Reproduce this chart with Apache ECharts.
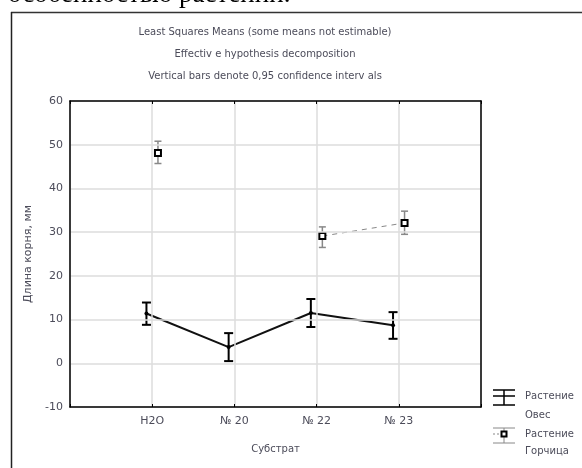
<!DOCTYPE html>
<html><head><meta charset="utf-8">
<script src="https://cdn.jsdelivr.net/npm/echarts@6/dist/echarts.min.js"></script>
<style>html,body{margin:0;padding:0;background:#fff}#c{width:582px;height:468px}</style>
</head><body><div id="c"></div>
<script>
var categories = ['H2O', '№ 20', '№ 22', '№ 23'];
var yTicks = [-10, 0, 10, 20, 30, 40, 50, 60];
var oatMean = [11.4, 3.7, 11.5, 8.7];
var oatLow  = [8.8, 0.5, 8.3, 5.6];
var oatHigh = [13.9, 6.9, 14.7, 11.7];
var mustardMean = [48.1, null, 29.1, 32.1];
var mustardLow  = [45.7, null, 26.5, 29.5];
var mustardHigh = [50.8, null, 31.2, 34.8];
var seriesNames = ['Растение\nОвес', 'Растение\nГорчица'];
var titleLines = ['Least Squares Means (some means not estimable)', 'Effectiv e hypothesis decomposition', 'Vertical bars denote 0,95 confidence interv als'];

var OFF = 0.07;
var FONT = '"DejaVu Sans", Verdana, sans-serif';
var TXT = '#4c4c5a';
function pts(arr, off) { return arr.map(function (v, i) { return [i + 1 + off, v]; }); }
function bars(mean, lo, hi, off) {
  var out = [];
  mean.forEach(function (v, i) { if (v !== null) out.push([i + 1 + off, lo[i], hi[i]]); });
  return out;
}
function errRender(color, w, cap) {
  return function (params, api) {
    var x = api.value(0);
    var a = api.coord([x, api.value(1)]);
    var b = api.coord([x, api.value(2)]);
    var st = { stroke: color, lineWidth: w };
    return { type: 'group', children: [
      { type: 'line', shape: { x1: a[0], y1: a[1], x2: b[0], y2: b[1] }, style: st },
      { type: 'line', shape: { x1: a[0] - cap, y1: a[1], x2: a[0] + cap, y2: a[1] }, style: st },
      { type: 'line', shape: { x1: b[0] - cap, y1: b[1], x2: b[0] + cap, y2: b[1] }, style: st }
    ]};
  };
}

var chart = echarts.init(document.getElementById('c'), null, { renderer: 'canvas' });
var gfx = [
  { type: 'text', left: 8, top: -19, style: { text: 'особенностью растений.', font: '27px "Liberation Serif", "Times New Roman", serif', fill: '#000' } },
  { type: 'line', shape: { x1: 11, y1: 12.5, x2: 582, y2: 12.5 }, style: { stroke: '#333', lineWidth: 1.5 } },
  { type: 'line', shape: { x1: 11.5, y1: 12, x2: 11.5, y2: 468 }, style: { stroke: '#222', lineWidth: 1.5 } }
];
titleLines.forEach(function (t, i) {
  gfx.push({ type: 'text', x: 265, y: 32 + i * 22, style: { text: t, font: '10px ' + FONT, fill: TXT, align: 'center', verticalAlign: 'middle' } });
});
// legend
var lx = 504, hw = 11;
function L(x1, y1, x2, y2, c, w, dash) { return { type: 'line', shape: { x1: x1, y1: y1, x2: x2, y2: y2 }, style: { stroke: c, lineWidth: w, lineDash: dash || null } }; }
function T(t, x, y) { return { type: 'text', x: x, y: y, style: { text: t, font: '10px ' + FONT, fill: TXT, verticalAlign: 'middle' } }; }
gfx.push(
  L(lx - hw, 390, lx + hw, 390, '#000', 1.5),
  L(lx - hw, 396, lx + hw, 396, '#000', 1.5),
  L(lx - hw, 405, lx + hw, 405, '#000', 1.5),
  L(lx, 390, lx, 405, '#000', 1.5),
  T(seriesNames[0].split('\n')[0], 525, 396),
  T(seriesNames[0].split('\n')[1], 525, 415),
  L(lx - hw, 428, lx + hw, 428, '#888', 1),
  L(lx - hw, 443, lx + hw, 443, '#888', 1),
  L(lx - hw, 434, lx - 3, 434, '#888', 1, [2, 2]),
  L(lx, 428, lx, 443, '#888', 1),
  { type: 'rect', shape: { x: lx - 2.5, y: 431.5, width: 5, height: 5 }, style: { fill: '#fff', stroke: '#000', lineWidth: 2 } },
  T(seriesNames[1].split('\n')[0], 525, 434),
  T(seriesNames[1].split('\n')[1], 525, 451)
);

var xMax = categories.length + 1;
chart.setOption({
  animation: false,
  backgroundColor: '#fff',
  textStyle: { fontFamily: FONT },
  grid: { left: 70, right: 101, top: 101, bottom: 61 },
  xAxis: [{
    type: 'value', min: 0, max: xMax, interval: 1,
    name: 'Субстрат', nameLocation: 'middle', nameGap: 37,
    nameTextStyle: { color: TXT, fontSize: 10 },
    axisLine: { show: true, onZero: false, lineStyle: { color: '#000', width: 1.5 } },
    axisTick: { show: true, inside: true, length: 3, lineStyle: { color: '#000' } },
    axisLabel: { color: TXT, fontSize: 11, margin: 9, formatter: function (v) { return categories[v - 1] || ''; } },
    splitLine: { show: true, lineStyle: { color: '#dcdcdc', width: 1.5 } },
    z: 5
  }, {
    type: 'value', position: 'top', min: 0, max: xMax, interval: 1,
    axisLine: { show: true, onZero: false, lineStyle: { color: '#000', width: 1.5 } },
    axisTick: { show: true, inside: true, length: 3, lineStyle: { color: '#000' } },
    axisLabel: { show: false }, splitLine: { show: false }, z: 5
  }],
  yAxis: [{
    type: 'value', min: yTicks[0], max: yTicks[yTicks.length - 1], interval: 10,
    name: 'Длина корня, мм', nameLocation: 'middle', nameGap: 34,
    nameTextStyle: { color: TXT, fontSize: 11 },
    axisLine: { show: true, onZero: false, lineStyle: { color: '#000', width: 1.5 } },
    axisTick: { show: false },
    axisLabel: { color: TXT, fontSize: 11, margin: 7 },
    splitLine: { show: true, lineStyle: { color: '#dcdcdc', width: 1.5 } },
    z: 5
  }, {
    type: 'value', position: 'right', min: yTicks[0], max: yTicks[yTicks.length - 1], interval: 10,
    axisLine: { show: true, onZero: false, lineStyle: { color: '#000', width: 1.5 } },
    axisTick: { show: false }, axisLabel: { show: false }, splitLine: { show: false }, z: 5
  }],
  graphic: gfx,
  series: [
    { type: 'custom', name: 'oatErr', data: bars(oatMean, oatLow, oatHigh, -OFF), renderItem: errRender('#000', 2, 4.5), z: 3 },
    { type: 'custom', name: 'musErr', data: bars(mustardMean, mustardLow, mustardHigh, OFF), renderItem: errRender('#888', 1.5, 3.5), z: 3 },
    { type: 'line', name: seriesNames[0], data: pts(oatMean, -OFF), symbol: 'circle', symbolSize: 4,
      itemStyle: { color: '#000' }, lineStyle: { color: '#111', width: 2 }, z: 4 },
    { type: 'line', name: seriesNames[1], data: pts(mustardMean, OFF), connectNulls: false, symbol: 'rect', symbolSize: 6,
      itemStyle: { color: '#fff', borderColor: '#000', borderWidth: 2 }, lineStyle: { color: '#888', width: 1, type: [5, 5] }, z: 4 }
  ]
});
</script></body></html>
